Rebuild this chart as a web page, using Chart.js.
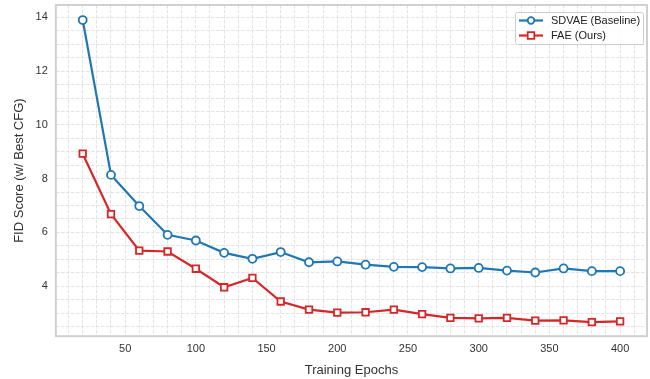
<!DOCTYPE html>
<html>
<head>
<meta charset="utf-8">
<script src="https://cdn.jsdelivr.net/npm/chart.js@4"></script>
<style>
  html, body { margin: 0; padding: 0; background: #fff; }
  #wrap { width: 650px; height: 379px; }
</style>
</head>
<body>
<div id="wrap"><canvas id="fidChart" width="650" height="379"></canvas></div>
<script>
// ---- data ----
const epochs = [20, 40, 60, 80, 100, 120, 140, 160, 180, 200, 220, 240, 260, 280, 300, 320, 340, 360, 380, 400];
const sdvae = [13.9, 8.14, 6.98, 5.91, 5.70, 5.24, 5.02, 5.27, 4.89, 4.92, 4.80, 4.72, 4.71, 4.66, 4.68, 4.58, 4.51, 4.66, 4.56, 4.56];
const fae = [8.93, 6.68, 5.32, 5.29, 4.65, 3.96, 4.31, 3.43, 3.13, 3.02, 3.03, 3.13, 2.96, 2.82, 2.80, 2.82, 2.72, 2.73, 2.66, 2.69];
const seriesNames = ["SDVAE (Baseline)", "FAE (Ours)"];
const xTickLabels = [50, 100, 150, 200, 250, 300, 350, 400];
const yTickLabels = [4, 6, 8, 10, 12, 14];

const FONT = "'Liberation Sans', Arial, sans-serif";
const BLUE = "#1f77b4";
const RED = "#d62728";

function toPoints(ys) {
  return epochs.map((x, i) => ({ x: x, y: ys[i] }));
}

// no extra room for edge labels, the layout padding handles it
function noEdgePadding(scale) {
  scale.paddingTop = 0;
  scale.paddingBottom = 0;
  scale.paddingLeft = 0;
  scale.paddingRight = 0;
}

// frame round the plot + legend inside the top-right corner
const framePlugin = {
  id: "frame",
  afterDraw(chart) {
    const { ctx, chartArea: a } = chart;
    ctx.save();
    ctx.strokeStyle = "#d0d0d0";
    ctx.lineWidth = 2;
    ctx.strokeRect(a.left, a.top, a.right - a.left, a.bottom - a.top);

    // legend
    const bx = a.right - 132, by = a.top + 7, bw = 128, bh = 32;
    ctx.fillStyle = "rgba(255,255,255,0.85)";
    ctx.strokeStyle = "#cccccc";
    ctx.lineWidth = 1;
    ctx.beginPath();
    ctx.roundRect(bx + 0.5, by + 0.5, bw, bh, 2);
    ctx.fill();
    ctx.stroke();

    const items = [
      { name: seriesNames[0], color: BLUE, shape: "circle" },
      { name: seriesNames[1], color: RED, shape: "square" }
    ];
    ctx.font = "11px " + FONT;
    ctx.textBaseline = "middle";
    items.forEach((it, i) => {
      const y = by + 8.5 + i * 15;
      const x0 = bx + 4;
      ctx.strokeStyle = it.color;
      ctx.lineWidth = 2.2;
      ctx.beginPath();
      ctx.moveTo(x0, y);
      ctx.lineTo(x0 + 24, y);
      ctx.stroke();
      ctx.fillStyle = "#fff";
      ctx.lineWidth = 1.8;
      ctx.beginPath();
      if (it.shape === "circle") ctx.arc(x0 + 12, y, 3.3, 0, Math.PI * 2);
      else ctx.rect(x0 + 8.7, y - 3.3, 6.6, 6.6);
      ctx.fill();
      ctx.stroke();
      ctx.fillStyle = "#222";
      ctx.fillText(it.name, x0 + 32, y + 0.5);
    });
    ctx.restore();
  }
};

const ctx = document.getElementById("fidChart").getContext("2d");
new Chart(ctx, {
  type: "line",
  data: {
    datasets: [
      {
        label: seriesNames[0],
        data: toPoints(sdvae),
        borderColor: BLUE,
        backgroundColor: "#fff",
        borderWidth: 2.2,
        pointStyle: "circle",
        pointRadius: 4,
        pointBorderWidth: 1.8,
        pointBorderColor: BLUE,
        pointBackgroundColor: "#fff",
        tension: 0
      },
      {
        label: seriesNames[1],
        data: toPoints(fae),
        borderColor: RED,
        backgroundColor: "#fff",
        borderWidth: 2.2,
        pointStyle: "rect",
        pointRadius: 4.6,
        pointBorderWidth: 1.8,
        pointBorderColor: RED,
        pointBackgroundColor: "#fff",
        tension: 0
      }
    ]
  },
  options: {
    responsive: false,
    animation: false,
    layout: { autoPadding: false, padding: { left: 12, right: 3, top: 5, bottom: 1 } },
    plugins: {
      legend: { display: false },
      tooltip: { enabled: false }
    },
    scales: {
      x: {
        type: "linear",
        min: 1,
        max: 419,
        afterBuildTicks(axis) {
          const t = [];
          for (let v = 10; v <= 410; v += 10) t.push({ value: v });
          axis.ticks = t;
        },
        afterFit: noEdgePadding,
        ticks: {
          autoSkip: false,
          maxRotation: 0,
          padding: 6,
          color: "#333",
          font: { family: FONT, size: 11 },
          callback: (v) => (xTickLabels.includes(v) ? String(v) : "")
        },
        grid: { color: "#e3e3e3", lineWidth: 1, drawTicks: false },
        border: { display: false, dash: [3.5, 1.5] },
        title: {
          display: true,
          text: "Training Epochs",
          color: "#333",
          font: { family: FONT, size: 13 },
          padding: { top: 1, bottom: 0 }
        }
      },
      y: {
        type: "linear",
        min: 2.14,
        max: 14.46,
        afterBuildTicks(axis) {
          const t = [];
          for (let v = 2.5; v <= 14.01; v += 0.5) t.push({ value: Math.round(v * 10) / 10 });
          axis.ticks = t;
        },
        afterFit: noEdgePadding,
        ticks: {
          autoSkip: false,
          padding: 8,
          color: "#333",
          font: { family: FONT, size: 11 },
          callback: (v) => (yTickLabels.includes(v) ? String(v) : "")
        },
        grid: { color: "#e3e3e3", lineWidth: 1, drawTicks: false },
        border: { display: false, dash: [3.5, 1.5] },
        title: {
          display: true,
          text: "FID Score (w/ Best CFG)",
          color: "#333",
          font: { family: FONT, size: 13 },
          padding: { top: 0, bottom: 0 }
        }
      }
    }
  },
  plugins: [framePlugin]
});
</script>
</body>
</html>
